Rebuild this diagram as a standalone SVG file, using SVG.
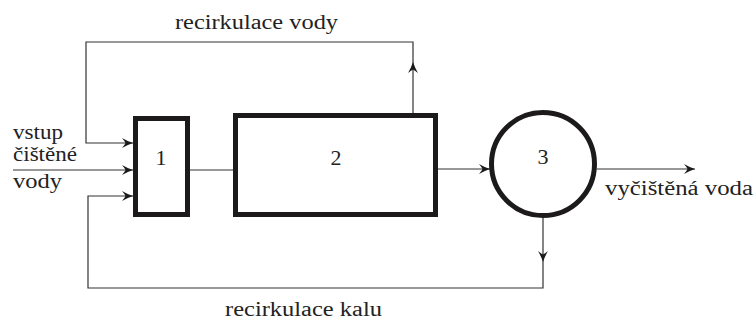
<svg xmlns="http://www.w3.org/2000/svg" width="755" height="320" viewBox="0 0 755 320">
  <defs>
    <marker id="arrow" markerUnits="userSpaceOnUse" markerWidth="16" markerHeight="12" viewBox="-13 -6 16 12" refX="0" refY="0" orient="auto">
      <path d="M0,0 Q-6,-2 -11,-5 Q-8,-1.5 -7.5,0 Q-8,1.5 -11,5 Q-6,2 0,0 Z" fill="#1a1a1a"/>
    </marker>
    <style>
      .unit { fill: #fff; stroke: #1c1a1a; stroke-width: 5; }
      .flow { fill: none; stroke: #333; stroke-width: 1.2; }
      text { font-family: 'Liberation Serif', 'Times New Roman', Times, serif; fill: #222; }
      .lbl { font-size: 20px; }
      .num { font-size: 22px; text-anchor: middle; }
    </style>
  </defs>

  <!-- connectors -->
  <g id="connectors">
    <path class="flow" d="M13,170 H133" marker-end="url(#arrow)"/>
    <path class="flow" d="M190,170 H233"/>
    <path class="flow" d="M438,169 H490" marker-end="url(#arrow)"/>
    <path class="flow" d="M597,169 H695" marker-end="url(#arrow)"/>
    <!-- water recirculation -->
    <path class="flow" d="M413,113 V62" marker-end="url(#arrow)"/>
    <path class="flow" d="M413,62 V42 H86 V143 H133" marker-end="url(#arrow)"/>
    <!-- sludge recirculation -->
    <path class="flow" d="M543,218 V262" marker-end="url(#arrow)"/>
    <path class="flow" d="M543,262 V288 H88 V196 H133" marker-end="url(#arrow)"/>
  </g>

  <g id="node1">
    <rect class="unit" x="135.5" y="118.5" width="52" height="96"/>
    <text class="num" x="161" y="165">1</text>
  </g>
  <g id="node2">
    <rect class="unit" x="235.5" y="115.5" width="200" height="99"/>
    <text class="num" x="336" y="165">2</text>
  </g>
  <g id="node3">
    <circle class="unit" cx="543" cy="164" r="51.5"/>
    <text class="num" x="543" y="164">3</text>
  </g>

  <g id="labels">
    <text class="lbl" x="175" y="29" textLength="163" lengthAdjust="spacingAndGlyphs">recirkulace vody</text>
    <text class="lbl" x="13" y="139" textLength="50" lengthAdjust="spacingAndGlyphs">vstup</text>
    <text class="lbl" x="13" y="161" textLength="64" lengthAdjust="spacingAndGlyphs">čištěné</text>
    <text class="lbl" x="13" y="188" textLength="49" lengthAdjust="spacingAndGlyphs">vody</text>
    <text class="lbl" x="605" y="195" textLength="148" lengthAdjust="spacingAndGlyphs">vyčištěná voda</text>
    <text class="lbl" x="225" y="316" textLength="157" lengthAdjust="spacingAndGlyphs">recirkulace kalu</text>
  </g>
</svg>
